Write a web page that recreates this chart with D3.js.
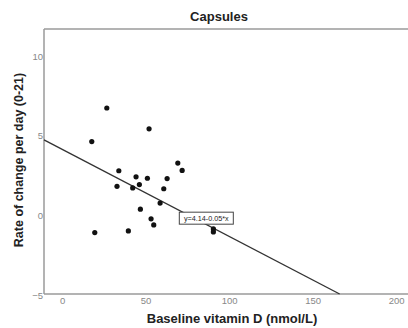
<!DOCTYPE html>
<html><head><meta charset="utf-8">
<script src="https://cdn.jsdelivr.net/npm/d3@7"></script>
<style>body{margin:0;background:#fff}svg{display:block}</style>
</head><body><div id="chart"></div>
<script>
const titleText = "Capsules";
const xLabel = "Baseline vitamin D (nmol/L)";
const yLabel = "Rate of change per day (0-21)";
const xTicks = [0, 50, 100, 150, 200];
const yTicks = [-5, 0, 5, 10];
const vitD = [26.8, 52.1, 17.8, 69.3, 71.9, 34.0, 44.3, 51.1, 62.9, 32.9, 42.3, 46.3, 60.9, 58.7, 46.9, 53.3, 54.9, 19.6, 39.7, 90.6, 90.6];
const rate = [6.74, 5.43, 4.63, 3.28, 2.82, 2.80, 2.42, 2.33, 2.31, 1.82, 1.72, 1.93, 1.67, 0.77, 0.39, -0.22, -0.60, -1.08, -0.98, -0.85, -1.04];
const lineIntercept = 4.14;
const lineSlope = -0.055;
const fitLabel = "y=4.14-0.05*x";

(function () {
const W = 408, H = 328;
const svg = d3.select("#chart").append("svg").attr("width", W).attr("height", H);
const mLeft = 44, mTop = 29, mBottom = 294, mRight = 412;
const x = d3.scaleLinear().domain([-10.8, 209.5]).range([mLeft, mRight]);
const y = d3.scaleLinear().domain([-5, 11.7]).range([mBottom + 1, mTop]);

const axisColor = "#9a9a9a";
svg.append("line").attr("x1", mLeft).attr("x2", W).attr("y1", mTop).attr("y2", mTop).attr("stroke", axisColor).attr("stroke-width", 1.5);
svg.append("line").attr("x1", mLeft).attr("x2", mLeft).attr("y1", mTop).attr("y2", mBottom).attr("stroke", axisColor).attr("stroke-width", 1.5);
svg.append("line").attr("x1", mLeft).attr("x2", W).attr("y1", mBottom).attr("y2", mBottom).attr("stroke", axisColor).attr("stroke-width", 1.5);

const font = "'Liberation Sans', Arial, sans-serif";
const xAxis = d3.axisBottom(x).tickValues(xTicks).tickSize(0).tickPadding(3);
const gx = svg.append("g").attr("transform", `translate(0,${mBottom})`).call(xAxis);
gx.select(".domain").remove();
gx.selectAll("text").attr("fill", "#888").style("font-family", font).style("font-size", "9.5px");
const yAxis = d3.axisLeft(y).tickValues(yTicks).tickSize(0).tickPadding(1);
const gy = svg.append("g").attr("transform", `translate(${mLeft},0)`).call(yAxis);
gy.select(".domain").remove();
gy.selectAll("text").attr("fill", "#888").style("font-family", font).style("font-size", "9.5px");

const xEnd = (-5 - lineIntercept) / lineSlope;
const xStart = x.domain()[0];
svg.append("line")
  .attr("x1", x(xStart)).attr("y1", y(lineIntercept + lineSlope * xStart))
  .attr("x2", x(xEnd)).attr("y2", y(-5) - 1)
  .attr("stroke", "#333").attr("stroke-width", 1.4);

svg.append("g").selectAll("circle").data(vitD.map((v, i) => [v, rate[i]])).join("circle")
  .attr("cx", d => x(d[0])).attr("cy", d => y(d[1])).attr("r", 2.6).attr("fill", "#111");

const lx = 70.5;
const ly = lineIntercept + lineSlope * lx;
const bx = x(lx), by = y(ly);
svg.append("rect").attr("x", bx - 0.5).attr("y", by + 1).attr("width", 54).attr("height", 12)
  .attr("fill", "#fff").attr("stroke", "#444").attr("stroke-width", 1);
svg.append("text").attr("x", bx + 26.5).attr("y", by + 9.8).attr("text-anchor", "middle")
  .style("font-family", font).style("font-size", "7.2px").attr("fill", "#222").text(fitLabel);

svg.append("text").attr("x", 219).attr("y", 21).attr("text-anchor", "middle")
  .style("font-family", font).style("font-size", "13px").style("font-weight", "bold").attr("fill", "#222").text(titleText);
svg.append("text").attr("x", 232).attr("y", 323).attr("text-anchor", "middle")
  .style("font-family", font).style("font-size", "13px").style("font-weight", "bold").attr("fill", "#222").text(xLabel);
svg.append("text").attr("transform", "translate(23,160) rotate(-90)").attr("text-anchor", "middle")
  .style("font-family", font).style("font-size", "12.5px").style("font-weight", "bold").attr("fill", "#222").text(yLabel);
})();
</script></body></html>
